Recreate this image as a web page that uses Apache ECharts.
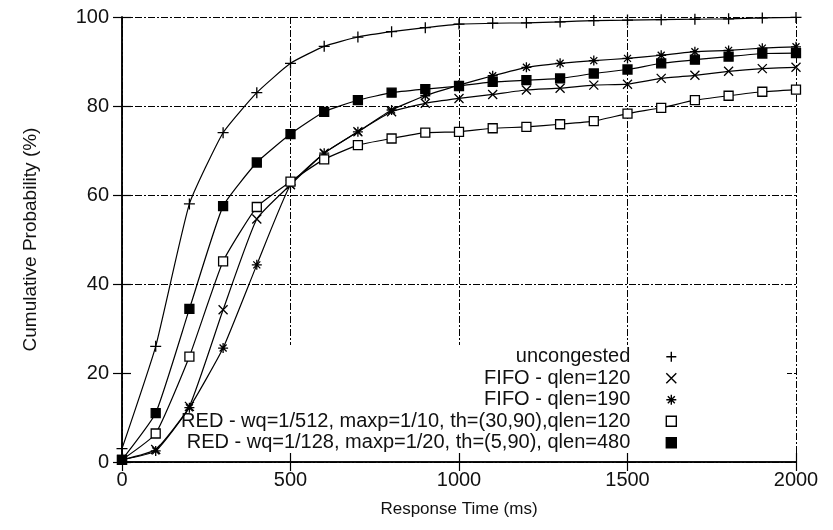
<!DOCTYPE html>
<html>
<head>
<meta charset="utf-8">
<script src="https://cdn.jsdelivr.net/npm/echarts@6/dist/echarts.min.js"></script>
<style>
  html, body { margin: 0; padding: 0; background: #fff; }
  #main { width: 833px; height: 530px; }
</style>
</head>
<body>
<div id="main"></div>
<script>
// response time (ms), one point every 100 ms
const times = [0, 100, 200, 300, 400, 500, 600, 700, 800, 900, 1000,
  1100, 1200, 1300, 1400, 1500, 1600, 1700, 1800, 1900, 2000]

// cumulative probability (%)
const uncongested = [3, 26, 58, 74, 83, 89.6, 93.4, 95.5, 96.7, 97.6, 98.4,
  98.6, 98.7, 98.9, 99.2, 99.3, 99.4, 99.5, 99.6, 99.8, 99.9]
const fifo120 = [0.5, 2.8, 12.5, 34.2, 54.6, 62.3, 69.4, 74.2, 78.7, 80.6, 81.7,
  82.6, 83.6, 84.0, 84.7, 84.9, 86.2, 86.9, 87.8, 88.4, 88.7]
const fifo190 = [0.5, 2.5, 12.2, 25.6, 44.3, 62.3, 69.4, 74.2, 79.1, 82.3, 84.7,
  86.8, 88.7, 89.6, 90.2, 90.7, 91.4, 92.2, 92.5, 93.0, 93.3]
const red512 = [0.5, 6.4, 23.7, 45.1, 57.3, 63.0, 68.0, 71.2, 72.7, 74.0, 74.2,
  75.0, 75.3, 75.9, 76.6, 78.3, 79.6, 81.3, 82.3, 83.2, 83.7]
const red128 = [0.5, 11.0, 34.4, 57.5, 67.3, 73.7, 78.7, 81.3, 83.0, 83.8, 84.5,
  85.4, 85.8, 86.2, 87.3, 88.2, 89.6, 90.4, 91.1, 91.8, 91.9]

const names = [
  'uncongested',
  'FIFO - qlen=120',
  'FIFO - qlen=190',
  'RED - wq=1/512, maxp=1/10, th=(30,90),qlen=120',
  'RED - wq=1/128, maxp=1/20, th=(5,90), qlen=480'
]

const PLUS = 'path://M5,0L5,10M0,5L10,5'
const CROSS = 'path://M0,0L10,10M10,0L0,10'
const STAR = 'path://M5,0L5,10M0,5L10,5M1.5,1.5L8.5,8.5M8.5,1.5L1.5,8.5'
const SQUARE = 'path://M0,0L10,0L10,10L0,10Z'

const marks = [
  { values: uncongested, symbol: PLUS, size: 11, fill: '#000' },
  { values: fifo120, symbol: CROSS, size: 9, fill: '#000' },
  { values: fifo190, symbol: STAR, size: 10, fill: '#000' },
  { values: red512, symbol: SQUARE, size: 9, fill: '#fff' },
  { values: red128, symbol: SQUARE, size: 9, fill: '#000' }
]

const FONT = 'Liberation Sans, Arial, sans-serif'
const gridDash = { color: '#000', width: 1, type: [7, 2, 2, 2] }

const series = marks.map((m, i) => ({
  name: names[i],
  type: 'line',
  data: times.map((t, j) => [t, m.values[j]]),
  symbol: m.symbol,
  symbolSize: m.size,
  symbolKeepAspect: true,
  showAllSymbol: true,
  smooth: 0.15,
  lineStyle: { color: '#000', width: 1.2 },
  itemStyle: { color: m.fill, borderColor: '#000', borderWidth: 1.3 },
  emphasis: { disabled: true },
  z: 2 + i
}))

const legendData = marks.map((m, i) => ({
  name: names[i],
  icon: m.symbol,
  itemStyle: { color: m.fill, borderColor: '#000', borderWidth: 1.4 }
}))

const option = {
  animation: false,
  backgroundColor: '#fff',
  grid: { left: 122, right: 37, top: 17, bottom: 68 },
  legend: {
    data: legendData,
    orient: 'vertical',
    align: 'right',
    right: 156,
    top: 346,
    padding: 0,
    itemGap: 0,
    itemWidth: 72,
    itemHeight: 10,
    symbolKeepAspect: true,
    selectedMode: false,
    textStyle: { fontFamily: FONT, fontSize: 20, color: '#111', lineHeight: 21.5 }
  },
  graphic: [{
    type: 'rect',
    z: 1,
    silent: true,
    shape: { x: 131, y: 345, width: 656, height: 108 },
    style: { fill: '#fff' }
  }],
  xAxis: [{
    type: 'value',
    min: 0,
    max: 2000,
    interval: 500,
    name: 'Response Time (ms)',
    nameLocation: 'middle',
    nameGap: 39,
    nameTextStyle: { fontFamily: FONT, fontSize: 17, color: '#111' },
    axisLine: { show: true, lineStyle: { color: '#000', width: 1.5 } },
    axisTick: { show: true, inside: true, length: 9, lineStyle: { color: '#000', width: 1.2 } },
    axisLabel: { fontFamily: FONT, fontSize: 20, color: '#111', margin: 8, formatter: v => String(v) },
    splitLine: { show: true, lineStyle: gridDash }
  }, {
    type: 'value',
    position: 'top',
    min: 0,
    max: 2000,
    interval: 500,
    axisLine: { show: true, lineStyle: { color: '#000', width: 1.5 } },
    axisTick: { show: true, inside: true, length: 9, lineStyle: { color: '#000', width: 1.2 } },
    axisLabel: { show: false },
    splitLine: { show: false }
  }],
  yAxis: [{
    type: 'value',
    min: 0,
    max: 100,
    interval: 20,
    name: 'Cumulative Probability (%)',
    nameLocation: 'middle',
    nameGap: 82,
    nameTextStyle: { fontFamily: FONT, fontSize: 19, color: '#111' },
    axisLine: { show: true, lineStyle: { color: '#000', width: 1.5 } },
    axisTick: { show: true, inside: true, length: 9, lineStyle: { color: '#000', width: 1.2 } },
    axisLabel: { fontFamily: FONT, fontSize: 20, color: '#111', margin: 13 },
    splitLine: { show: true, lineStyle: gridDash }
  }, {
    type: 'value',
    position: 'right',
    min: 0,
    max: 100,
    interval: 20,
    axisLine: { show: true, lineStyle: { color: '#000', width: 1.5 } },
    axisTick: { show: true, inside: true, length: 9, lineStyle: { color: '#000', width: 1.2 } },
    axisLabel: { show: false },
    splitLine: { show: false }
  }],
  series: series
}

const myChart = echarts.init(document.getElementById('main'))
myChart.setOption(option)
</script>
</body>
</html>
